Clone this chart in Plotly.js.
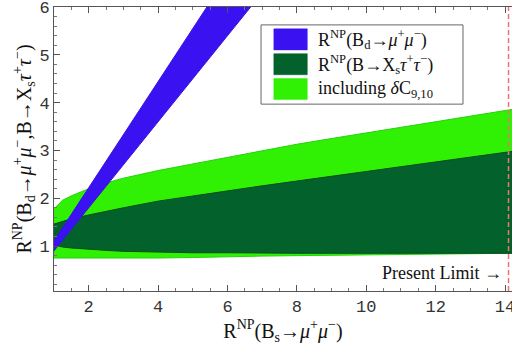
<!DOCTYPE html>
<html>
<head>
<meta charset="utf-8">
<script src="https://cdn.plot.ly/plotly-3.0.1.min.js"></script>
<style>html,body{margin:0;padding:0;background:#fff;}#chart{width:512px;height:346px;}</style>
</head>
<body>
<div id="chart"></div>
<script>
// R^NP(Bs -> mu mu) grid
const xGreen = [1, 1.25, 1.5, 2, 2.5, 3, 4, 5, 6, 7, 8, 9, 10, 11, 12, 13, 14, 14.3];
// light green band (including dC9,10)
const lightLower = [0.75, 0.75, 0.74, 0.74, 0.74, 0.74, 0.75, 0.76, 0.78, 0.79, 0.80, 0.81, 0.82, 0.83, 0.84, 0.84, 0.85, 0.85];
const lightUpper = [1.78, 1.96, 2.05, 2.20, 2.32, 2.42, 2.58, 2.72, 2.86, 3.00, 3.13, 3.25, 3.37, 3.49, 3.61, 3.73, 3.84, 3.87];
// dark green band R^NP(B -> Xs tau tau)
const darkLower = [1.02, 0.98, 0.96, 0.93, 0.91, 0.89, 0.87, 0.86, 0.86, 0.85, 0.85, 0.85, 0.85, 0.85, 0.85, 0.85, 0.85, 0.85];
const darkUpper = [1.46, 1.52, 1.57, 1.65, 1.73, 1.80, 1.94, 2.05, 2.15, 2.26, 2.36, 2.46, 2.56, 2.66, 2.76, 2.86, 2.96, 2.99];
// blue band R^NP(Bd -> mu mu)
const xBlue = [1, 2, 3, 4, 5, 6, 7];
const blueLower = [0.90, 1.80, 2.70, 3.60, 4.50, 5.40, 6.30];
const blueUpper = [1.11, 2.22, 3.33, 4.44, 5.55, 6.66, 7.77];
// present limit on R^NP(Bs -> mu mu)
const presentLimit = 14.1;
// tick labels
const xTicks = [2, 4, 6, 8, 10, 12, 14];
const yTicks = [1, 2, 3, 4, 5, 6];

const legendLabels = [
  'R<sup>NP</sup>(B<sub>d</sub>→<i>μ</i><sup>+</sup><i>μ</i><sup>−</sup>)',
  'R<sup>NP</sup>(B→X<sub>s</sub><i>τ</i><sup>+</sup><i>τ</i><sup>−</sup>)',
  'including <i>δ</i>C<sub>9,10</sub>'
];
const cBlue = '#3a12f2', cDark = '#03622b', cLight = '#30f004';
const legendColors = [cBlue, cDark, cLight];

const traces = [
  {x: xGreen, y: lightLower, mode: 'lines', line: {color: '#28d010', width: 1}, showlegend: false, hoverinfo: 'skip'},
  {x: xGreen, y: lightUpper, mode: 'lines', fill: 'tonexty', fillcolor: cLight, line: {color: '#28d010', width: 1}, showlegend: false, hoverinfo: 'skip'},
  {x: xGreen, y: darkLower, mode: 'lines', line: {color: '#024a20', width: 1}, showlegend: false, hoverinfo: 'skip'},
  {x: xGreen, y: darkUpper, mode: 'lines', fill: 'tonexty', fillcolor: cDark, line: {color: '#024a20', width: 1}, showlegend: false, hoverinfo: 'skip'},
  {x: xBlue, y: blueLower, mode: 'lines', line: {color: '#3a12e0', width: 1}, showlegend: false, hoverinfo: 'skip'},
  {x: xBlue, y: blueUpper, mode: 'lines', fill: 'tonexty', fillcolor: cBlue, line: {color: '#3a12e0', width: 1}, showlegend: false, hoverinfo: 'skip'}
];

const serif = 'Liberation Serif, Times New Roman, serif';
const mono = 'Liberation Mono, Courier New, monospace';

const shapes = [
  {type: 'line', xref: 'x', yref: 'paper', x0: presentLimit, x1: presentLimit, y0: 0, y1: 1,
   line: {color: '#f07070', width: 1.5, dash: '5px,3px'}},
  {type: 'rect', xref: 'paper', yref: 'paper', x0: 0.452, x1: 0.893, y0: 0.658, y1: 0.937,
   line: {color: '#666', width: 1}, fillcolor: 'rgba(255,255,255,0.95)'}
];
const annotations = [];
legendLabels.forEach((t, i) => {
  const yTop = 0.923 - i * 0.0875;
  shapes.push({type: 'rect', xref: 'paper', yref: 'paper', x0: 0.48, x1: 0.553, y0: yTop - 0.074, y1: yTop,
    line: {color: legendColors[i], width: 0.5}, fillcolor: legendColors[i]});
  annotations.push({xref: 'paper', yref: 'paper', x: 0.573, y: yTop - 0.037, xanchor: 'left', yanchor: 'middle',
    text: t, showarrow: false, font: {family: serif, size: 18, color: '#111'}});
});
annotations.push({xref: 'x', yref: 'y', x: 13.98, y: 0.44, xanchor: 'right', yanchor: 'middle',
  text: 'Present Limit →', showarrow: false, font: {family: serif, size: 18, color: '#111'}});

const layout = {
  width: 512, height: 346,
  margin: {l: 54, r: 0, t: 7, b: 55},
  paper_bgcolor: '#fff', plot_bgcolor: '#fff',
  showlegend: false,
  xaxis: {
    range: [1, 14.2], tickvals: xTicks, ticktext: xTicks.map(String), ticks: 'inside', ticklen: 6, tickcolor: '#555',
    ticklabeloverflow: 'allow',
    minor: {dtick: 0.5, tick0: 0, ticks: 'inside', ticklen: 3, tickcolor: '#777'},
    showline: true, linecolor: '#555', linewidth: 1, mirror: 'ticks', showgrid: false, zeroline: false,
    tickfont: {family: mono, size: 17, color: '#333'},
    title: {text: 'R<sup>NP</sup>(B<sub>s</sub>→<i>μ</i><sup>+</sup><i>μ</i><sup>−</sup>)', font: {family: serif, size: 20, color: '#111'}, standoff: 4}
  },
  yaxis: {
    range: [0.06, 6.001], tickvals: yTicks, ticktext: yTicks.map(String), ticks: 'inside', ticklen: 6, tickcolor: '#555',
    ticklabeloverflow: 'allow',
    minor: {dtick: 0.2, tick0: 0, ticks: 'inside', ticklen: 3, tickcolor: '#777'},
    showline: true, linecolor: '#555', linewidth: 1, mirror: false, showgrid: false, zeroline: false,
    tickfont: {family: mono, size: 17, color: '#333'},
    title: {text: 'R<sup>NP</sup>(B<sub>d</sub>→<i>μ</i><sup>+</sup><i>μ</i><sup>−</sup>,B→X<sub>s</sub><i>τ</i><sup>+</sup><i>τ</i><sup>−</sup>)', font: {family: serif, size: 20, color: '#111'}, standoff: 2}
  },
  shapes: shapes,
  annotations: annotations
};

Plotly.newPlot('chart', traces, layout, {staticPlot: true, displayModeBar: false});
</script>
</body>
</html>
